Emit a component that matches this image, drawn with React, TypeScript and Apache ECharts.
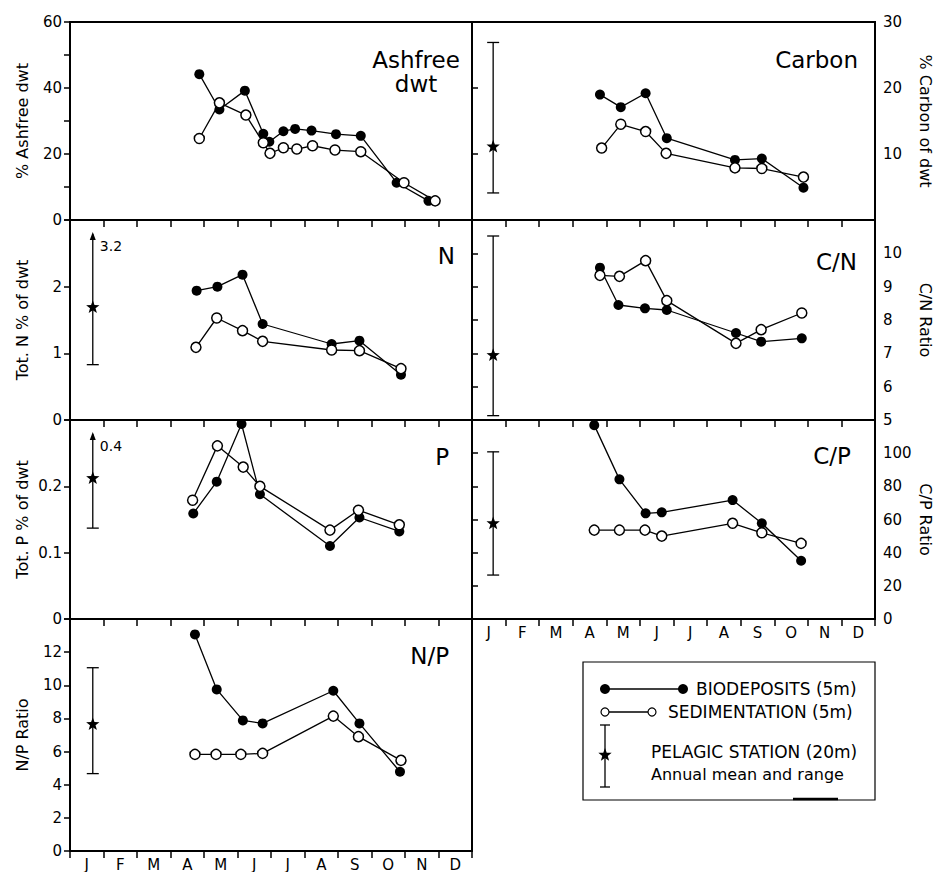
import React, { useEffect, useRef } from 'react';
import * as echarts from 'echarts';

const FONT = 'DejaVu Sans';
const months = ['J', 'F', 'M', 'A', 'M', 'J', 'J', 'A', 'S', 'O', 'N', 'D'];

// Ashfree dwt (%)
const ashBioMonth = [3.86, 4.46, 5.22, 5.77, 5.95, 6.37, 6.72, 7.21, 7.94, 8.68, 9.75, 10.7];
const ashBioValue = [44.2, 33.5, 39.2, 26.1, 23.7, 26.9, 27.6, 27.1, 26.0, 25.5, 11.3, 5.8];
const ashSedMonth = [3.86, 4.46, 5.25, 5.77, 5.97, 6.37, 6.77, 7.24, 7.91, 8.68, 9.97, 10.9];
const ashSedValue = [24.7, 35.5, 31.8, 23.4, 20.2, 21.9, 21.5, 22.5, 21.2, 20.7, 11.3, 5.8];

// Carbon (% of dwt)
const cBioMonth = [3.81, 4.43, 5.17, 5.8, 7.83, 8.63, 9.87];
const cBioValue = [19.0, 17.1, 19.2, 12.4, 9.1, 9.3, 4.9];
const cSedMonth = [3.86, 4.43, 5.17, 5.78, 7.83, 8.63, 9.87];
const cSedValue = [10.9, 14.5, 13.4, 10.1, 7.9, 7.8, 6.5];

// Tot. N % of dwt
const nBioMonth = [3.78, 4.4, 5.15, 5.75, 7.81, 8.64, 9.88];
const nBioValue = [1.94, 2.0, 2.18, 1.44, 1.14, 1.19, 0.68];
const nSedMonth = [3.76, 4.38, 5.15, 5.75, 7.81, 8.64, 9.88];
const nSedValue = [1.09, 1.53, 1.34, 1.18, 1.05, 1.04, 0.77];

// C/N ratio
const cnBioMonth = [3.81, 4.36, 5.15, 5.8, 7.86, 8.61, 9.82];
const cnBioValue = [9.57, 8.45, 8.35, 8.3, 7.61, 7.35, 7.45];
const cnSedMonth = [3.81, 4.39, 5.17, 5.8, 7.86, 8.61, 9.82];
const cnSedValue = [9.34, 9.31, 9.78, 8.58, 7.3, 7.71, 8.21];

// Tot. P % of dwt
const pBioMonth = [3.68, 4.38, 5.12, 5.67, 7.76, 8.64, 9.83];
const pBioValue = [0.159, 0.207, 0.294, 0.188, 0.11, 0.153, 0.132];
const pSedMonth = [3.66, 4.4, 5.17, 5.67, 7.76, 8.61, 9.83];
const pSedValue = [0.179, 0.261, 0.229, 0.2, 0.134, 0.164, 0.142];

// C/P ratio
const cpBioMonth = [3.64, 4.39, 5.17, 5.65, 7.76, 8.63, 9.8];
const cpBioValue = [116.9, 84.2, 63.7, 64.3, 71.7, 57.7, 35.1];
const cpSedMonth = [3.64, 4.39, 5.15, 5.65, 7.76, 8.63, 9.8];
const cpSedValue = [53.6, 53.6, 53.6, 50.0, 57.7, 52.0, 45.6];

// N/P ratio
const npBioMonth = [3.73, 4.38, 5.16, 5.75, 7.86, 8.64, 9.85];
const npBioValue = [13.07, 9.75, 7.88, 7.7, 9.67, 7.7, 4.78];
const npSedMonth = [3.73, 4.36, 5.1, 5.75, 7.86, 8.61, 9.88];
const npSedValue = [5.83, 5.83, 5.83, 5.89, 8.14, 6.9, 5.47];

// Pelagic station (20m): [month, low, mean, high]
const pelagicCarbon = [0.63, 4.1, 11.1, 26.9];
const pelagicN = [0.68, 0.83, 1.69, 3.2];
const pelagicCN = [0.63, 5.13, 6.94, 10.52];
const pelagicP = [0.68, 0.137, 0.212, 0.4];
const pelagicCP = [0.63, 26.5, 57.6, 100.8];
const pelagicNP = [0.68, 4.67, 7.64, 11.06];

const zip = (xs: number[], ys: number[]) => xs.map((x, i) => [x, ys[i]]);

function starPoints(cx: number, cy: number, R: number, r: number) {
  const pts: number[][] = [];
  for (let i = 0; i < 10; i++) {
    const a = -Math.PI / 2 + (i * Math.PI) / 5;
    const rad = i % 2 === 0 ? R : r;
    pts.push([cx + rad * Math.cos(a), cy + rad * Math.sin(a)]);
  }
  return pts;
}

const panels: any[] = [
  { grid: { left: 70, top: 22, width: 402, height: 198 }, side: 'left', min: 0, max: 60, interval: 10, labelStep: 20,
    name: '% Ashfree dwt', bio: zip(ashBioMonth, ashBioValue), sed: zip(ashSedMonth, ashSedValue), pel: null,
    title: 'Ashfree\ndwt', tx: 416, ty: 72, talign: 'center' },
  { grid: { left: 472, top: 22, width: 403, height: 198 }, side: 'right', min: 0, max: 30, interval: 10, hideMin: true,
    name: '% Carbon of dwt', bio: zip(cBioMonth, cBioValue), sed: zip(cSedMonth, cSedValue), pel: pelagicCarbon,
    title: 'Carbon', tx: 858, ty: 60, talign: 'right' },
  { grid: { left: 70, top: 220, width: 402, height: 200 }, side: 'left', min: 0, max: 3, interval: 1, hideMax: true,
    name: 'Tot. N % of dwt', bio: zip(nBioMonth, nBioValue), sed: zip(nSedMonth, nSedValue), pel: pelagicN,
    title: 'N', tx: 455, ty: 256, talign: 'right' },
  { grid: { left: 472, top: 220, width: 403, height: 200 }, side: 'right', min: 5, max: 11, interval: 1, hideMax: true,
    name: 'C/N Ratio', bio: zip(cnBioMonth, cnBioValue), sed: zip(cnSedMonth, cnSedValue), pel: pelagicCN,
    title: 'C/N', tx: 857, ty: 262, talign: 'right' },
  { grid: { left: 70, top: 420, width: 402, height: 199 }, side: 'left', min: 0, max: 0.3, interval: 0.1, hideMax: true, decimals: 1,
    name: 'Tot. P % of dwt', bio: zip(pBioMonth, pBioValue), sed: zip(pSedMonth, pSedValue), pel: pelagicP,
    title: 'P', tx: 449, ty: 457, talign: 'right' },
  { grid: { left: 472, top: 420, width: 403, height: 199 }, side: 'right', min: 0, max: 120, interval: 20, hideMax: true,
    name: 'C/P Ratio', bio: zip(cpBioMonth, cpBioValue), sed: zip(cpSedMonth, cpSedValue), pel: pelagicCP,
    title: 'C/P', tx: 851, ty: 456, talign: 'right' },
  { grid: { left: 70, top: 619, width: 402, height: 233 }, side: 'left', min: 0, max: 14, interval: 2, hideMax: true,
    name: 'N/P Ratio', bio: zip(npBioMonth, npBioValue), sed: zip(npSedMonth, npSedValue), pel: pelagicNP,
    title: 'N/P', tx: 449, ty: 656, talign: 'right' },
];

function makeFormatter(p: any) {
  return (v: number) => {
    if (p.hideMax && Math.abs(v - p.max) < 1e-9) return '';
    if (p.hideMin && Math.abs(v - p.min) < 1e-9) return '';
    if (p.labelStep && Math.abs(v / p.labelStep - Math.round(v / p.labelStep)) > 1e-6) return '';
    if (p.decimals) return Math.abs(v) < 1e-9 ? '0' : v.toFixed(p.decimals);
    return String(Math.round(v));
  };
}

function makePelagicRender(axisMax: number) {
  return (params: any, api: any) => {
    const cs = params.coordSys;
    const x = api.value(0);
    const lo = api.value(1);
    const mean = api.value(2);
    const hi = api.value(3);
    const pLo = api.coord([x, lo]);
    const pMean = api.coord([x, mean]);
    const px = pLo[0];
    const arrow = hi > axisMax;
    const yHi = arrow ? cs.y + 14 : api.coord([x, hi])[1];
    const ls = { stroke: '#000', lineWidth: 1.3 };
    const children: any[] = [
      { type: 'line', shape: { x1: px, y1: yHi, x2: px, y2: pLo[1] }, style: ls },
      { type: 'line', shape: { x1: px - 6, y1: pLo[1], x2: px + 6, y2: pLo[1] }, style: ls },
    ];
    if (arrow) {
      children.push({ type: 'polygon', shape: { points: [[px, yHi - 2], [px - 3, yHi + 6], [px + 3, yHi + 6]] }, style: { fill: '#000' } });
      children.push({ type: 'text', x: px + 7, y: yHi + 12,
        style: { text: String(hi), fontSize: 14, fontFamily: FONT, fill: '#000', align: 'left', verticalAlign: 'middle', textAlign: 'left', textVerticalAlign: 'middle' } });
    } else {
      children.push({ type: 'line', shape: { x1: px - 6, y1: yHi, x2: px + 6, y2: yHi }, style: ls });
    }
    children.push({ type: 'polygon', shape: { points: starPoints(px, pMean[1], 7, 2.9) }, style: { fill: '#000' } });
    return { type: 'group', children };
  };
}

function buildOption() {
  const grid = panels.map((p) => ({ ...p.grid, show: true, borderColor: '#000', borderWidth: 2, backgroundColor: 'transparent', containLabel: false }));
  const xAxis: any[] = panels.map((p, i) => ({
    gridIndex: i, type: 'value', min: 0, max: 12, interval: 1, position: 'bottom',
    axisLine: { show: true, lineStyle: { color: '#000', width: 2 } },
    axisTick: { show: true, inside: false, length: 7, lineStyle: { color: '#000', width: 1.5 } },
    axisLabel: { show: false }, splitLine: { show: false },
  }));
  [5, 6].forEach((gi) => {
    xAxis.push({
      gridIndex: gi, type: 'category', data: months, boundaryGap: true, position: 'bottom',
      axisLine: { show: false }, axisTick: { show: false }, splitLine: { show: false },
      axisLabel: { show: true, interval: 0, margin: 6, fontSize: 15, fontFamily: FONT, color: '#000' },
    });
  });
  const yAxis = panels.map((p, i) => ({
    gridIndex: i, type: 'value', position: p.side, min: p.min, max: p.max, interval: p.interval,
    name: p.name, nameLocation: 'middle', nameGap: p.side === 'left' ? 40 : 42,
    nameRotate: p.side === 'left' ? 90 : -90,
    nameTextStyle: { fontSize: 16, fontFamily: FONT, color: '#000' },
    axisLine: { show: true, lineStyle: { color: '#000', width: 2 } },
    axisTick: { show: true, inside: false, length: 6, lineStyle: { color: '#000', width: 1.5 } },
    axisLabel: { show: true, margin: 8, fontSize: 15, fontFamily: FONT, color: '#000', formatter: makeFormatter(p), showMinLabel: true, showMaxLabel: true },
    splitLine: { show: false },
  }));
  const series: any[] = [];
  panels.forEach((p, i) => {
    series.push({
      type: 'line', name: 'BIODEPOSITS (5m)', xAxisIndex: i, yAxisIndex: i, data: p.bio,
      symbol: 'circle', symbolSize: 10, showSymbol: true, clip: false,
      itemStyle: { color: '#000' }, lineStyle: { color: '#000', width: 1.3 }, z: 3,
    });
    series.push({
      type: 'line', name: 'SEDIMENTATION (5m)', xAxisIndex: i, yAxisIndex: i, data: p.sed,
      symbol: 'circle', symbolSize: 10, showSymbol: true, clip: false,
      itemStyle: { color: '#fff', borderColor: '#000', borderWidth: 1.5 }, lineStyle: { color: '#000', width: 1.3 }, z: 4,
    });
    if (p.pel) {
      series.push({
        type: 'custom', name: 'PELAGIC STATION (20m)', xAxisIndex: i, yAxisIndex: i,
        renderItem: makePelagicRender(p.max), data: [p.pel], encode: { x: 0, y: [1, 2, 3] }, clip: false, z: 5,
      });
    }
  });

  const graphic: any[] = panels.map((p) => ({
    type: 'text', x: p.tx, y: p.ty,
    style: { text: p.title, fontSize: 23, fontFamily: FONT, fill: '#000', lineHeight: 24,
      align: p.talign, textAlign: p.talign, verticalAlign: 'middle', textVerticalAlign: 'middle' },
  }));

  // legend box
  const ls = { stroke: '#000', lineWidth: 1.3 };
  const txt = (x: number, y: number, t: string, size = 16) => ({
    type: 'text', x, y,
    style: { text: t, fontSize: size, fontFamily: FONT, fill: '#000', align: 'left', textAlign: 'left', verticalAlign: 'middle', textVerticalAlign: 'middle' },
  });
  graphic.push(
    { type: 'rect', shape: { x: 583, y: 662, width: 292, height: 138 }, style: { fill: 'transparent', stroke: '#000', lineWidth: 1.2 } },
    { type: 'line', shape: { x1: 793, y1: 799, x2: 838, y2: 799 }, style: { stroke: '#000', lineWidth: 2.5 } },
    { type: 'line', shape: { x1: 605, y1: 689, x2: 683, y2: 689 }, style: ls },
    { type: 'circle', shape: { cx: 605, cy: 689, r: 5 }, style: { fill: '#000' } },
    { type: 'circle', shape: { cx: 683, cy: 689, r: 5 }, style: { fill: '#000' } },
    txt(696, 689, 'BIODEPOSITS (5m)', 17),
    { type: 'line', shape: { x1: 609, y1: 712, x2: 648, y2: 712 }, style: ls },
    { type: 'circle', shape: { cx: 605, cy: 712, r: 4 }, style: { fill: '#fff', stroke: '#000', lineWidth: 1.2 } },
    { type: 'circle', shape: { cx: 652, cy: 712, r: 4 }, style: { fill: '#fff', stroke: '#000', lineWidth: 1.2 } },
    txt(668, 712, 'SEDIMENTATION (5m)', 17),
    { type: 'line', shape: { x1: 605, y1: 725, x2: 605, y2: 787 }, style: ls },
    { type: 'line', shape: { x1: 600, y1: 725, x2: 610, y2: 725 }, style: ls },
    { type: 'line', shape: { x1: 600, y1: 787, x2: 610, y2: 787 }, style: ls },
    { type: 'polygon', shape: { points: starPoints(605, 755, 7, 2.9) }, style: { fill: '#000' } },
    txt(651, 752, 'PELAGIC STATION (20m)', 17),
    txt(651, 774, 'Annual mean and range'),
  );

  return {
    animation: false,
    backgroundColor: '#fff',
    textStyle: { fontFamily: FONT },
    grid, xAxis, yAxis, series, graphic,
  };
}

export default function App() {
  const ref = useRef<HTMLDivElement>(null);
  useEffect(() => {
    if (!ref.current) return;
    const chart = echarts.init(ref.current, null, { renderer: 'svg' });
    chart.setOption(buildOption() as any);
    return () => chart.dispose();
  }, []);
  return <div ref={ref} style={{ position: 'absolute', left: 0, top: 0, width: 937, height: 872 }} />;
}
